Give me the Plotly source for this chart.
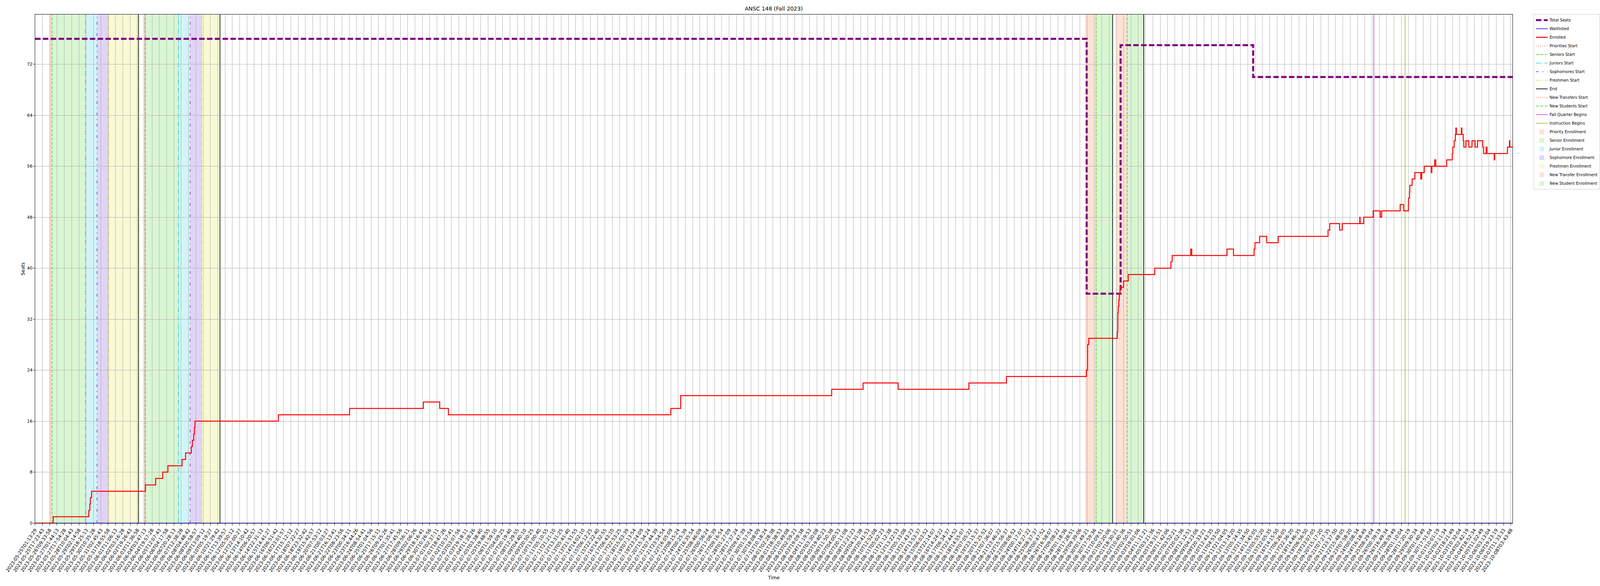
import plotly.graph_objects as go

# snapshot window (first and last scrape)
snapshot_start = "2023-05-25 01:13:29"
snapshot_end = "2023-10-08 07:25:00"

# enrolled count, value holds from each time until the next one
enrolled_times = [
    "2023-05-25 01:13:29", "2023-05-26 17:16", "2023-05-30 00:04", "2023-05-30 02:26",
    "2023-05-30 03:37", "2023-05-30 06:13", "2023-06-04 05:27", "2023-06-05 04:03",
    "2023-06-05 19:41", "2023-06-06 07:08", "2023-06-07 14:29", "2023-06-07 22:16",
    "2023-06-08 10:54", "2023-06-08 13:19", "2023-06-08 16:20", "2023-06-08 17:48",
    "2023-06-08 19:03", "2023-06-16 11:40", "2023-06-23 01:20", "2023-06-29 20:43",
    "2023-07-01 08:50", "2023-07-02 04:05", "2023-07-22 16:25", "2023-07-23 14:08",
    "2023-08-06 12:20", "2023-08-09 09:52", "2023-08-12 15:29", "2023-08-19 04:05",
    "2023-08-22 15:18", "2023-08-30 00:12", "2023-08-30 02:44", "2023-08-30 05:30",
    "2023-09-01 20:40", "2023-09-01 21:40", "2023-09-01 22:37", "2023-09-02 00:02",
    "2023-09-02 00:59", "2023-09-02 02:34", "2023-09-02 10:25", "2023-09-02 20:52",
    "2023-09-05 07:18", "2023-09-06 19:19", "2023-09-06 22:05", "2023-09-08 15:00",
    "2023-09-08 17:21", "2023-09-11 23:30", "2023-09-12 13:47", "2023-09-14 11:21",
    "2023-09-14 13:25", "2023-09-14 23:45", "2023-09-15 15:16", "2023-09-16 16:46",
    "2023-09-21 07:05", "2023-09-21 10:48", "2023-09-22 08:45", "2023-09-22 14:22",
    "2023-09-24 05:16", "2023-09-24 06:05", "2023-09-24 13:56", "2023-09-25 11:07",
    "2023-09-26 02:31", "2023-09-26 05:39", "2023-09-27 22:45", "2023-09-28 06:22",
    "2023-09-28 16:52", "2023-09-28 17:13", "2023-09-28 19:35", "2023-09-28 20:03",
    "2023-09-29 01:08", "2023-09-29 07:02", "2023-09-29 20:19", "2023-09-29 22:23",
    "2023-09-30 04:03", "2023-09-30 19:27", "2023-09-30 20:56", "2023-10-01 03:04",
    "2023-10-01 05:36", "2023-10-02 05:38", "2023-10-02 18:01", "2023-10-02 19:09",
    "2023-10-02 22:16", "2023-10-03 00:49", "2023-10-03 02:03", "2023-10-03 03:07",
    "2023-10-03 14:05", "2023-10-03 15:16", "2023-10-03 18:13", "2023-10-03 19:35",
    "2023-10-04 00:07", "2023-10-04 06:33", "2023-10-04 13:42", "2023-10-04 20:40",
    "2023-10-05 01:55", "2023-10-05 13:33", "2023-10-05 15:26", "2023-10-05 20:55",
    "2023-10-05 22:59", "2023-10-06 14:49", "2023-10-06 15:52", "2023-10-07 20:09",
    "2023-10-08 00:34", "2023-10-08 01:13",
]
enrolled_values = [
    0, 1, 2, 3, 4, 5, 6, 7, 8, 9, 10, 11, 12, 13, 14, 15, 16, 17, 18, 19,
    18, 17, 18, 20, 21, 22, 21, 22, 23, 24, 28, 29, 30, 33, 34, 35, 36, 37, 38, 39,
    40, 41, 42, 43, 42, 43, 42, 43, 44, 45, 44, 45, 46, 47, 46, 47, 48, 47, 48, 49,
    48, 49, 50, 49, 50, 51, 52, 53, 54, 55, 54, 55, 56, 55, 56, 57, 56, 57, 58, 59,
    60, 61, 62, 61, 62, 61, 60, 59, 60, 59, 60, 59, 60, 59, 58, 59, 58, 57, 58, 59,
    60, 59,
]

seat_times = ["2023-05-25 01:13:29", "2023-08-30 00:47", "2023-09-02 03:56", "2023-09-14 09:17"]
seat_values = [76, 36, 75, 70]

waitlist_times = ["2023-05-25 01:13:29"]
waitlist_values = [0]

# enrollment calendar (two passes + new students)
priority_starts = ["2023-05-26 10:22", "2023-06-04 01:33"]
senior_starts = ["2023-05-26 14:33", "2023-06-04 05:27"]
junior_starts = ["2023-05-29 16:38", "2023-06-07 06:20"]
sophomore_starts = ["2023-05-30 18:15", "2023-06-08 08:15"]
freshmen_starts = ["2023-05-31 20:10", "2023-06-09 10:06"]
pass_ends = ["2023-06-03 14:06", "2023-06-11 02:28"]
new_transfer_starts = ["2023-08-29 23:01", "2023-09-01 18:20"]
new_student_starts = ["2023-08-30 21:52", "2023-09-02 18:22"]
new_student_ends = ["2023-09-01 10:15", "2023-09-04 07:08"]
fall_quarter_begins = ["2023-09-25 12:24"]
instruction_begins = ["2023-09-28 09:29"]

# page is narrower than the 6000px reference, so horizontal sizes shrink
HX = 4096 / 6000


def step_xy(times, values):
    # hold last value till the end of the window
    return times + [snapshot_end], values + [values[-1]]


fig = go.Figure()

x, y = step_xy(seat_times, seat_values)
fig.add_trace(go.Scatter(x=x, y=y, mode="lines", line_shape="hv", name="Total Seats",
                         line=dict(color="purple", width=5.2, dash="14px,6px"),
                         legendrank=1, legendgroup="seats"))
x, y = step_xy(waitlist_times, waitlist_values)
fig.add_trace(go.Scatter(x=x, y=y, mode="lines", line_shape="hv", name="Waitlisted",
                         line=dict(color="blue", width=1.5), legendrank=2, legendgroup="wait"))
x, y = step_xy(enrolled_times, enrolled_values)
fig.add_trace(go.Scatter(x=x, y=y, mode="lines", line_shape="hv", name="Enrolled",
                         line=dict(color="red", width=2.5), legendrank=3, legendgroup="enr"))


def add_lines(times, name, color, dsh, width, rank):
    for i, t in enumerate(times):
        fig.add_shape(type="line", xref="x", yref="paper", x0=t, x1=t, y0=0.107333, y1=0.975133,
                      line=dict(color=color, dash=dsh, width=width * HX), layer="between",
                      name=name, showlegend=(i == 0), legendrank=rank, legendgroup=name)


def add_spans(starts, stops, name, rgb, rank):
    for i, (a, b) in enumerate(zip(starts, stops)):
        fig.add_shape(type="rect", xref="x", yref="paper", x0=a, x1=b, y0=0.107333, y1=0.975133,
                      fillcolor="rgba(%d,%d,%d,0.2)" % rgb, line=dict(width=0), layer="below",
                      name=name, showlegend=(i == 0), legendrank=rank, legendgroup=name)


orange = (239, 106, 50)
green = (62, 212, 28)
cyan = (23, 203, 216)
violet = (107, 34, 214)
yellow = (224, 224, 40)

dotted = "2px,3.4px"
dashed = "7.7px,3.3px"

add_lines(priority_starts, "Priorities Start", "rgb(%d,%d,%d)" % orange, dotted, 2.0, 4)
add_lines(senior_starts, "Seniors Start", "rgb(%d,%d,%d)" % green, dashed, 2.2, 5)
add_lines(junior_starts, "Juniors Start", "rgb(%d,%d,%d)" % cyan, "13px,3.3px,2px,3.3px", 2.2, 6)
add_lines(sophomore_starts, "Sophomores Start", "rgb(%d,%d,%d)" % violet, "7px,10px,2px,10px", 2.2, 7)
add_lines(freshmen_starts, "Freshmen Start", "rgb(%d,%d,%d)" % yellow, "10px,3px,2px,3px,2px,3px", 2.2, 8)
add_lines(pass_ends + new_student_ends, "End", "black", "solid", 2.6, 9)
add_lines(new_transfer_starts, "New Transfers Start", "rgb(%d,%d,%d)" % orange, dotted, 2.0, 10)
add_lines(new_student_starts, "New Students Start", "rgb(%d,%d,%d)" % green, dashed, 2.2, 11)
add_lines(fall_quarter_begins, "Fall Quarter Begins", "#d81fa6", "solid", 2.0, 12)
add_lines(instruction_begins, "Instruction Begins", "#88b414", "solid", 2.0, 13)

add_spans(priority_starts, senior_starts, "Priority Enrollment", orange, 14)
add_spans(senior_starts, junior_starts, "Senior Enrollment", green, 15)
add_spans(junior_starts, sophomore_starts, "Junior Enrollment", cyan, 16)
add_spans(sophomore_starts, freshmen_starts, "Sophomore Enrollment", violet, 17)
add_spans(freshmen_starts, pass_ends, "Freshmen Enrollment", yellow, 18)
add_spans(new_transfer_starts, new_student_starts, "New Transfer Enrollment", orange, 19)
add_spans(new_student_starts, new_student_ends, "New Student Enrollment", green, 20)

fig.update_layout(
    margin=dict(l=0, r=0, t=0, b=0, pad=0, autoexpand=False),
    plot_bgcolor="white",
    paper_bgcolor="white",
    font=dict(family="DejaVu Sans", size=12, color="black"),
    title=dict(text="ANSC 148 (Fall 2023)", x=0.48365, xref="paper", xanchor="center",
               y=1 - 22 / 1500, yref="container", yanchor="middle", font=dict(size=14)),
    legend=dict(x=1.0, y=0.976, xanchor="right", yanchor="top", bgcolor="white",
                bordercolor="#cccccc", borderwidth=1, font=dict(size=10),
                traceorder="grouped", tracegroupgap=3),
    showlegend=True,
)

fig.update_xaxes(
    type="date",
    domain=[0.021942, 0.945333],
    range=[snapshot_start, snapshot_end],
    tick0=snapshot_start,
    dtick=58214950,  # one label every ~16h10m
    tickformat="%Y-%m-%dT%H:%M:%S",
    tickangle=-56,
    tickfont=dict(size=12),
    ticks="outside", ticklen=5, tickcolor="black", tickwidth=1,
    showgrid=True, gridcolor="#b0b0b0", gridwidth=0.8,
    showline=True, linecolor="black", linewidth=1, mirror=True,
    zeroline=False,
    automargin=False,
    title=dict(text="Time", standoff=8, font=dict(size=12)),
)
fig.update_yaxes(
    domain=[0.107333, 0.975133],
    range=[0, 79.8],
    tick0=0, dtick=8,
    tickfont=dict(size=11),
    ticks="outside", ticklen=3.4, tickcolor="black", tickwidth=1,
    showgrid=True, gridcolor="#b0b0b0", gridwidth=1.1,
    showline=True, linecolor="black", linewidth=1, mirror=True,
    zeroline=False,
    automargin=False,
    title=dict(text="Seats", standoff=3, font=dict(size=12)),
)

fig.write_html("out.html", default_width="100vw", default_height="100vh",
               config={"displayModeBar": False},
               post_script="document.body.style.margin='0';document.body.style.overflow='hidden';")
